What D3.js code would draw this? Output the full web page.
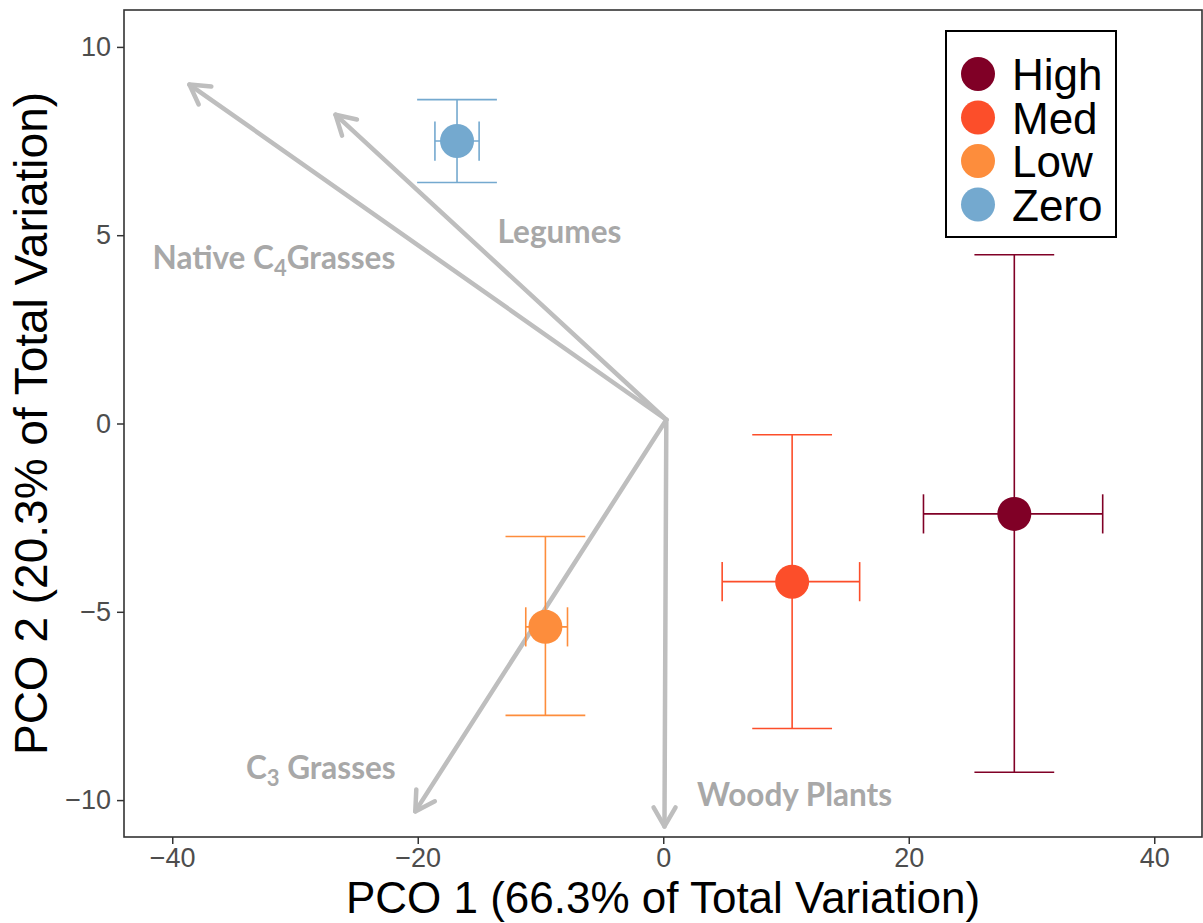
<!DOCTYPE html>
<html>
<head>
<meta charset="utf-8">
<script src="https://cdn.jsdelivr.net/npm/d3@7"></script>
<style>
  body { margin: 0; background: #fff; }
  svg { display: block; }
</style>
</head>
<body>
<div id="main"></div>
<script>
// group means and error ranges (PCO scores)
const groups = ["High", "Med", "Low", "Zero"];
const groupColors = ["#800026", "#fc4e2a", "#fd8d3c", "#74a9cf"];
const pco1 = [28.6, 10.5, -9.6, -16.8];
const pco2 = [-2.4, -4.2, -5.4, 7.5];
const pco1Lo = [21.2, 4.8, -11.2, -18.6];
const pco1Hi = [35.8, 16.0, -7.8, -15.0];
const pco2Lo = [-9.26, -8.1, -7.75, 6.4];
const pco2Hi = [4.48, -0.3, -3.0, 8.6];

// vectors (biplot arrows)
const vecNames = ["Native C4Grasses", "Legumes", "C3 Grasses", "Woody Plants"];
const vecX = [-38.6, -26.7, -20.2, 0.1];
const vecY = [9.0, 8.2, -10.3, -10.7];
const vecOrigin = [0.25, 0.1];
const labelX = [-41.6, -13.5, -34.0, 2.75];
const labelY = [4.1, 4.8, -9.45, -10.15];

const xTicks = [-40, -20, 0, 20, 40];
const yTicks = [-10, -5, 0, 5, 10];

const ctx = {
  w: 1203,
  h: 923,
  left: 124,
  right: 1202,
  top: 10,
  bottom: 837
};

function createPlot(svg) {
  const x = d3.scaleLinear().domain([-43.93, 43.89]).range([ctx.left, ctx.right]);
  const y = d3.scaleLinear().domain([-10.98, 10.98]).range([ctx.bottom, ctx.top]);

  // axes
  const xAxis = svg.append("g")
    .attr("transform", `translate(0,${ctx.bottom})`)
    .call(d3.axisBottom(x).tickValues(xTicks).tickSize(7).tickPadding(4)
      .tickFormat(d => d < 0 ? "\u2212" + Math.abs(d) : d));
  const yAxis = svg.append("g")
    .attr("transform", `translate(${ctx.left},0)`)
    .call(d3.axisLeft(y).tickValues(yTicks).tickSize(7).tickPadding(6)
      .tickFormat(d => d < 0 ? "\u2212" + Math.abs(d) : d));
  [xAxis, yAxis].forEach(a => {
    a.select(".domain").remove();
    a.selectAll(".tick line").attr("stroke", "#333").attr("stroke-width", 1.5);
    a.selectAll(".tick text")
      .attr("fill", "#4d4d4d")
      .style("font-family", "'Liberation Sans', Arial, sans-serif")
      .style("font-size", "27px");
  });
  xAxis.selectAll(".tick text").attr("dy", "0.72em");

  // panel border
  svg.append("rect")
    .attr("x", ctx.left).attr("y", ctx.top)
    .attr("width", ctx.right - ctx.left).attr("height", ctx.bottom - ctx.top)
    .attr("fill", "none").attr("stroke", "#333").attr("stroke-width", 1.6);

  // arrows
  const gArrows = svg.append("g")
    .attr("stroke", "#bebebe")
    .attr("stroke-width", 4.5)
    .attr("fill", "none")
    .attr("stroke-linecap", "round")
    .attr("stroke-linejoin", "round");
  const x0 = x(vecOrigin[0]), y0 = y(vecOrigin[1]);
  vecNames.forEach((n, i) => {
    const x1 = x(vecX[i]), y1 = y(vecY[i]);
    const ang = Math.atan2(y1 - y0, x1 - x0);
    const L = 22, a = Math.PI / 6;
    gArrows.append("line")
      .attr("x1", x0).attr("y1", y0).attr("x2", x1).attr("y2", y1);
    const p = d3.path();
    p.moveTo(x1 - L * Math.cos(ang - a), y1 - L * Math.sin(ang - a));
    p.lineTo(x1, y1);
    p.lineTo(x1 - L * Math.cos(ang + a), y1 - L * Math.sin(ang + a));
    gArrows.append("path").attr("d", p.toString());
  });

  // arrow labels
  const gLab = svg.append("g")
    .attr("fill", "#a8a8a8")
    .style("font-family", "Lato, 'Open Sans', sans-serif")
    .style("font-weight", "bold")
    .style("font-size", "31.5px");
  vecNames.forEach((n, i) => {
    const t = gLab.append("text").attr("x", x(labelX[i])).attr("y", y(labelY[i]));
    const m = n.match(/^(.*C)(\d)(.*)$/);
    if (m) {
      t.append("tspan").text(m[1]);
      t.append("tspan").attr("dy", 7).style("font-size", "22px").text(m[2]);
      t.append("tspan").attr("dy", -7).text(m[3]);
    } else {
      t.text(n);
    }
  });

  // error bars + points
  const capW = 3.25, capH = 0.52;
  groups.forEach((g, i) => {
    const gg = svg.append("g").attr("stroke", groupColors[i]).attr("stroke-width", 1.6);
    const cx = x(pco1[i]), cy = y(pco2[i]);
    // vertical
    gg.append("line").attr("x1", cx).attr("x2", cx).attr("y1", y(pco2Lo[i])).attr("y2", y(pco2Hi[i]));
    [pco2Lo[i], pco2Hi[i]].forEach(v => {
      gg.append("line").attr("x1", x(pco1[i] - capW)).attr("x2", x(pco1[i] + capW))
        .attr("y1", y(v)).attr("y2", y(v));
    });
    // horizontal
    gg.append("line").attr("y1", cy).attr("y2", cy).attr("x1", x(pco1Lo[i])).attr("x2", x(pco1Hi[i]));
    [pco1Lo[i], pco1Hi[i]].forEach(v => {
      gg.append("line").attr("y1", y(pco2[i] - capH)).attr("y2", y(pco2[i] + capH))
        .attr("x1", x(v)).attr("x2", x(v));
    });
    svg.append("circle").attr("cx", cx).attr("cy", cy).attr("r", 17)
      .attr("fill", groupColors[i]);
  });

  // legend
  const leg = svg.append("g").attr("transform", "translate(946,31)");
  leg.append("rect").attr("width", 170).attr("height", 206)
    .attr("fill", "#fff").attr("stroke", "#000").attr("stroke-width", 2);
  groups.forEach((g, i) => {
    const yy = 43 + i * 43.5;
    leg.append("circle").attr("cx", 32).attr("cy", yy).attr("r", 17).attr("fill", groupColors[i]);
    leg.append("text").attr("x", 66).attr("y", yy + 16)
      .style("font-family", "'Liberation Sans', Arial, sans-serif")
      .style("font-size", "44px")
      .attr("fill", "#000")
      .text(g);
  });

  // axis titles
  svg.append("text")
    .attr("x", (ctx.left + ctx.right) / 2).attr("y", 913)
    .attr("text-anchor", "middle")
    .style("font-family", "'Liberation Sans', Arial, sans-serif")
    .style("font-size", "44px")
    .text("PCO 1 (66.3% of Total Variation)");
  svg.append("text")
    .attr("transform", `translate(47,${(ctx.top + ctx.bottom) / 2}) rotate(-90)`)
    .attr("text-anchor", "middle")
    .style("font-family", "'Liberation Sans', Arial, sans-serif")
    .style("font-size", "46px")
    .text("PCO 2 (20.3% of Total Variation)");
}

function createViz() {
  const svg = d3.select("#main").append("svg")
    .attr("width", ctx.w)
    .attr("height", ctx.h);
  createPlot(svg);
}

createViz();
</script>
</body>
</html>
